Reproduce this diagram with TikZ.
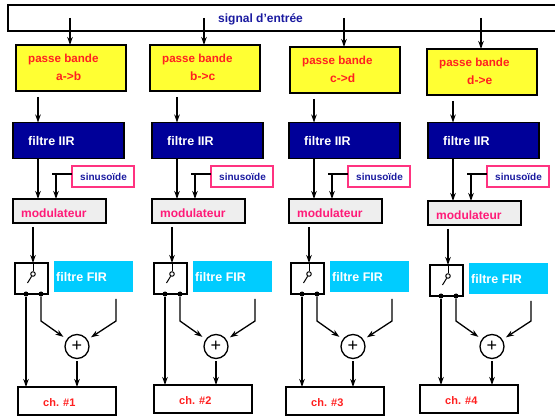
\documentclass[tikz,border=0pt]{standalone}
\usepackage{fontspec}
\setmainfont{Liberation Sans}
\usetikzlibrary{arrows.meta}
\definecolor{pbfill}{HTML}{FFFF33}
\definecolor{redtxt}{HTML}{FF2020}
\definecolor{navyfill}{HTML}{000099}
\definecolor{pinkb}{HTML}{FF3380}
\definecolor{bluetxt}{HTML}{1A1AA0}
\definecolor{modfill}{HTML}{EEEEEE}
\definecolor{modtxt}{HTML}{FF1A78}
\definecolor{cyanf}{HTML}{00CCFF}
\begin{document}
\begin{tikzpicture}[x=1pt,y=-1pt,
  box/.style={draw=black, line width=1.4pt, inner sep=0pt, outer sep=0pt, anchor=north west},
  sigbox/.style={box, fill=white, minimum width=549pt, minimum height=26pt},
  pbbox/.style={box, fill=pbfill, minimum width=110pt, minimum height=46pt},
  iirbox/.style={box, fill=navyfill, minimum width=111pt, minimum height=36pt},
  sinbox/.style={box, draw=pinkb, line width=1.3pt, fill=white, minimum width=62pt, minimum height=21pt},
  modbox/.style={box, fill=modfill, minimum width=93pt, minimum height=24pt},
  swbox/.style={box, line width=1.3pt, minimum width=33pt, minimum height=31pt},
  firbox/.style={box, draw=none, fill=cyanf, minimum width=79pt, minimum height=31pt},
  chbox/.style={box, fill=white, minimum width=98pt, minimum height=28pt},
  txt/.style={anchor=west, inner sep=0pt, font=\bfseries\fontsize{12}{12}\selectfont},
  arr/.style={line width=1.3pt, -{Stealth[length=8pt,width=5.5pt]}},
  wire/.style={line width=1.3pt},
  swl/.style={line width=1pt},
  pivot/.style={circle, draw=black, line width=1pt, fill=white, minimum size=4.5pt, inner sep=0pt},
  contact/.style={circle, fill=black, minimum size=5pt, inner sep=0pt},
  sumnode/.style={circle, draw=black, line width=1.3pt, fill=white, minimum size=24pt, inner sep=0pt, font=\fontsize{18}{18}\selectfont}
]
\useasboundingbox (0,0) rectangle (555,417);
\node[sigbox] (sig) at (8,5) {};
\node[txt, text=bluetxt] (sigt) at (218,19) {signal d'entrée};
\foreach \i/\a/\b/\lab/\d/\e/\c/\f in {1/0/0/a->b/0/0/0/0, 2/134/0/b->c/139/0/136/-2, 3/274/2/c->d/276/0/268/0, 4/411/4/d->e/415/2/402/-2}{
  % passe bande
  \coordinate (s\i) at ({70+\a},18);
  \node[pbbox] (pb\i) at ({16+\a},{45+\b}) {};
  \node[txt, text=redtxt, font=\bfseries\fontsize{11.6}{12}\selectfont] (pbt\i) at ({28+\a},{60+\b}) {passe bande};
  \node[txt, text=redtxt] (pbl\i) at ({56+\a},{76+\b}) {\lab};
  \draw[arr] (s\i) -- (s\i |- pb\i.north);
  % filtre IIR
  \coordinate (p\i) at ({38+\d},{97+\b});
  \node[iirbox] (iir\i) at ({13+\d},122.5) {};
  \node[txt, text=white, font=\bfseries\fontsize{12.5}{12}\selectfont] (iirt\i) at ({28+\d},141) {filtre IIR};
  \draw[arr] (p\i) -- (p\i |- iir\i.north);
  % sinusoide
  \node[sinbox] (sin\i) at ({72+\d},166) {};
  \node[txt, text=bluetxt, font=\bfseries\fontsize{10}{10}\selectfont] (sint\i) at ({80+\d},176.5) {sinusoïde};
  \coordinate (h\i) at ({52+\d},174);
  \coordinate (v\i) at ({56+\d},174);
  \draw[wire] (h\i) -- (h\i -| sin\i.west);
  % modulateur
  \node[modbox] (mod\i) at ({13+\d},{199+\e}) {};
  \node[txt, text=modtxt] (modt\i) at ({21+\d},{213+\e}) {modulateur};
  \draw[arr] (v\i) -- (v\i |- mod\i.north);
  \draw[arr] (iir\i.south -| p\i) -- (p\i |- mod\i.north);
  % switch
  \coordinate (q\i) at ({33+\d},{227+\e});
  \node[swbox] (sw\i) at ({15+\d},{263+\e}) {};
  \draw[arr] (q\i) -- (q\i |- sw\i.north);
  \node[pivot] (pv\i) at ({33+\d},{274+\e}) {};
  \coordinate (bl\i) at ({27.5+\d},{283+\e});
  \draw[swl] (q\i |- sw\i.north) -- (pv\i);
  \draw[swl] (pv\i) -- (bl\i);
  \node[contact] (ca\i) at ({26+\d},{294+\e}) {};
  \node[contact] (cb\i) at ({41+\d},{294+\e}) {};
  % filtre FIR
  \node[firbox] (fir\i) at ({54+\d},{261+\e}) {};
  \node[txt, text=white, font=\bfseries\fontsize{12.5}{12}\selectfont] (firt\i) at ({56+\d},{277+\e}) {filtre FIR};
  % sommateur
  \node[sumnode] (sum\i) at ({77+\d},346.5) {+};
  \coordinate (k\i) at ({41+\d},321);
  \coordinate (f\i) at ({116+\d},{299+\e});
  \coordinate (g\i) at ({116+\d},321);
  \draw[arr, shorten >=4pt] (cb\i) -- (k\i) -- (sum\i);
  \draw[arr, shorten >=4pt] (f\i) -- (g\i) -- (sum\i);
  % canal
  \node[chbox] (ch\i) at ({18+\c},{387+\f}) {};
  \node[txt, text=redtxt, font=\bfseries\fontsize{11}{11}\selectfont] (cht\i) at ({43+\c},{403+\f}) {ch. \#\i};
  \draw[arr] (ca\i) -- (ca\i |- ch\i.north);
  \draw[arr, shorten <=2pt] (sum\i) -- (sum\i |- ch\i.north);
}
\end{tikzpicture}
\end{document}
